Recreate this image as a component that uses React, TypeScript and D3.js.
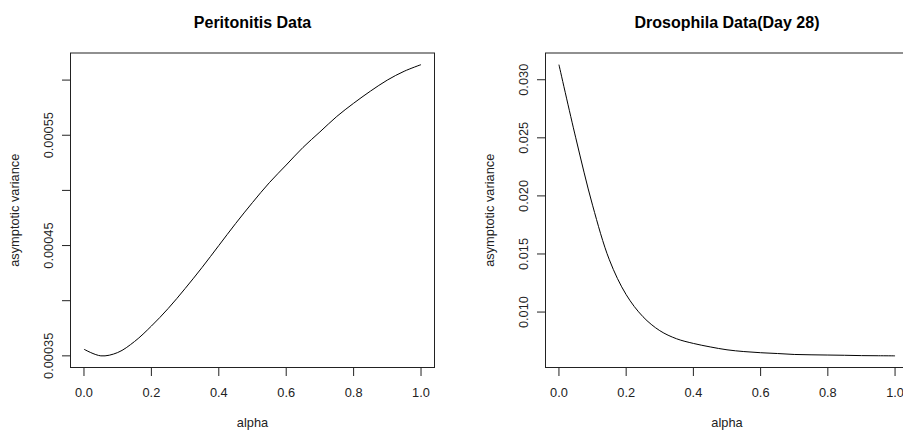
import React from "react";
import * as d3 from "d3";

const alphaValues = [0, 0.05, 0.1, 0.15, 0.2, 0.25, 0.3, 0.35, 0.4, 0.45, 0.5, 0.55, 0.6, 0.65, 0.7, 0.75, 0.8, 0.85, 0.9, 0.95, 1.0];
const peritonitisVar = [0.000356, 0.00035, 0.000353, 0.000363, 0.000377, 0.000393, 0.000411, 0.00043, 0.00045, 0.00047, 0.000489, 0.000507, 0.000523, 0.000539, 0.000553, 0.000567, 0.000579, 0.00059, 0.0006, 0.000608, 0.000614];
const drosophilaVar = [0.0313, 0.025, 0.0192, 0.0145, 0.0115, 0.0096, 0.0084, 0.0077, 0.0073, 0.007, 0.00675, 0.0066, 0.0065, 0.00643, 0.00635, 0.00632, 0.0063, 0.00628, 0.00625, 0.00624, 0.00623];

const xTicks = [0, 0.2, 0.4, 0.6, 0.8, 1.0];
const peritonitisYTicks = [0.00035, 0.0004, 0.00045, 0.0005, 0.00055, 0.0006];
const peritonitisYLabels = ["0.00035", "", "0.00045", "", "0.00055", ""];
const drosophilaYTicks = [0.01, 0.015, 0.02, 0.025, 0.03];
const drosophilaYLabels = ["0.010", "0.015", "0.020", "0.025", "0.030"];

const titles = ["Peritonitis Data", "Drosophila Data(Day 28)"];
const xLabel = "alpha";
const yLabel = "asymptotic variance";

function extend(ext: [number, number]): [number, number] {
  const d = (ext[1] - ext[0]) * 0.04;
  return [ext[0] - d, ext[1] + d];
}

type PanelProps = {
  left: number;
  right: number;
  top: number;
  bottom: number;
  values: number[];
  yTicks: number[];
  yLabels: string[];
  title: string;
};

const FONT = "'Liberation Sans', Arial, sans-serif";

function Panel({ left, right, top, bottom, values, yTicks, yLabels, title }: PanelProps) {
  const x = d3.scaleLinear().domain(extend([0, 1])).range([left, right]);
  const yExt = d3.extent(values) as [number, number];
  const y = d3.scaleLinear().domain(extend(yExt)).range([bottom, top]);
  const line = d3
    .line<number>()
    .x((_, i) => x(alphaValues[i]))
    .y((v) => y(v))
    .curve(d3.curveCatmullRom.alpha(0.5));
  const tick = 8.5;
  const cx = (left + right) / 2;
  const cy = (top + bottom) / 2;
  return (
    <g>
      <text x={cx} y={27.5} textAnchor="middle" fontFamily={FONT} fontWeight="bold" fontSize={16} fill="#000">
        {title}
      </text>
      <rect x={left} y={top} width={right - left} height={bottom - top} fill="none" stroke="#222" strokeWidth={1} />
      <path d={line(values) || ""} fill="none" stroke="#000" strokeWidth={1} />
      <line x1={x(xTicks[0])} x2={x(xTicks[xTicks.length - 1])} y1={bottom} y2={bottom} stroke="#222" />
      {xTicks.map((t) => (
        <g key={"x" + t}>
          <line x1={x(t)} x2={x(t)} y1={bottom} y2={bottom + tick} stroke="#222" />
          <text x={x(t)} y={397} textAnchor="middle" fontFamily={FONT} fontSize={12.8} fill="#222">
            {t.toFixed(1)}
          </text>
        </g>
      ))}
      {yTicks.map((t, i) => (
        <g key={"y" + t}>
          <line x1={left - tick} x2={left} y1={y(t)} y2={y(t)} stroke="#222" />
          {yLabels[i] && (
            <text
              transform={`translate(${left - 17.5},${y(t)}) rotate(-90)`}
              textAnchor="middle"
              fontFamily={FONT}
              fontSize={12.8}
              fill="#222"
            >
              {yLabels[i]}
            </text>
          )}
        </g>
      ))}
      <text x={cx} y={427} textAnchor="middle" fontFamily={FONT} fontSize={12.8} fill="#222">
        {xLabel}
      </text>
      <text
        transform={`translate(${left - 51.5},${cy}) rotate(-90)`}
        textAnchor="middle"
        fontFamily={FONT}
        fontSize={12.8}
        fill="#222"
      >
        {yLabel}
      </text>
    </g>
  );
}

export default function App() {
  return (
    <svg
      width={903}
      height={433}
      viewBox="0 0 903 433"
      style={{ position: "absolute", left: 0, top: 0, background: "#fff" }}
    >
      <rect x={0} y={0} width={903} height={433} fill="#fff" />
      <Panel
        left={70.5}
        right={434.5}
        top={53}
        bottom={367.5}
        values={peritonitisVar}
        yTicks={peritonitisYTicks}
        yLabels={peritonitisYLabels}
        title={titles[0]}
      />
      <Panel
        left={545.5}
        right={908.5}
        top={53}
        bottom={367.5}
        values={drosophilaVar}
        yTicks={drosophilaYTicks}
        yLabels={drosophilaYLabels}
        title={titles[1]}
      />
    </svg>
  );
}
